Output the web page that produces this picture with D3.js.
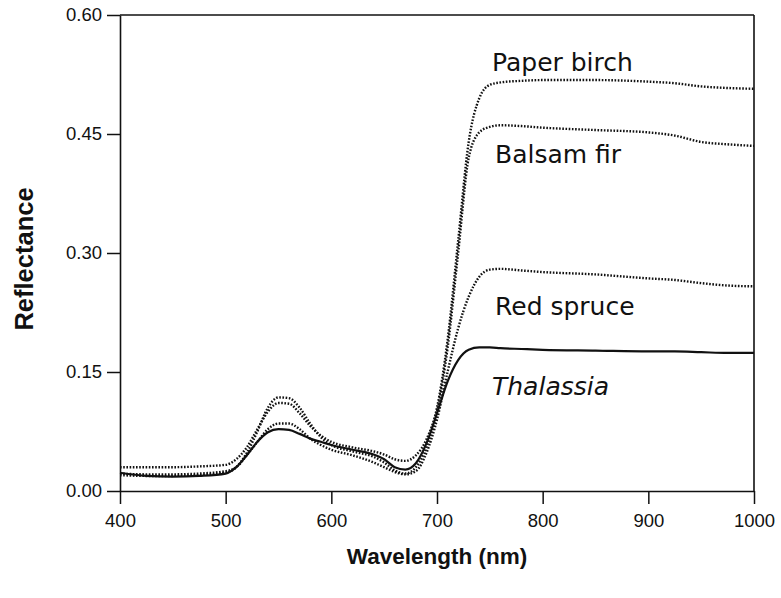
<!DOCTYPE html>
<html><head><meta charset="utf-8">
<script src="https://cdn.jsdelivr.net/npm/d3@7/dist/d3.min.js"></script>
<style>body{margin:0;background:#fff}svg{display:block}</style>
</head><body>
<svg id="chart" width="781" height="598"></svg>
<script>
const wavelengths = [400,425,450,475,500,510,520,530,540,550,560,570,580,590,600,620,640,650,660,670,680,690,700,710,720,730,740,750,760,780,800,850,900,925,950,975,1000];
const paperBirch = [0.030,0.030,0.030,0.031,0.033,0.040,0.055,0.078,0.100,0.111,0.110,0.098,0.082,0.070,0.062,0.055,0.050,0.046,0.040,0.038,0.045,0.065,0.105,0.190,0.315,0.440,0.495,0.512,0.515,0.517,0.518,0.518,0.516,0.514,0.510,0.508,0.507];
const balsamFir = [0.020,0.019,0.019,0.020,0.023,0.030,0.048,0.075,0.105,0.118,0.117,0.105,0.085,0.068,0.058,0.050,0.043,0.036,0.026,0.022,0.030,0.055,0.100,0.180,0.300,0.420,0.452,0.459,0.461,0.460,0.458,0.455,0.452,0.448,0.440,0.437,0.435];
const redSpruce = [0.022,0.021,0.021,0.022,0.025,0.030,0.045,0.062,0.078,0.085,0.085,0.078,0.066,0.058,0.052,0.045,0.036,0.030,0.024,0.021,0.025,0.048,0.090,0.150,0.205,0.245,0.270,0.279,0.280,0.278,0.276,0.273,0.268,0.266,0.262,0.259,0.258];
const thalassia = [0.023,0.019,0.018,0.019,0.022,0.030,0.045,0.062,0.074,0.078,0.077,0.072,0.066,0.062,0.058,0.052,0.046,0.040,0.030,0.027,0.035,0.060,0.098,0.138,0.165,0.178,0.181,0.181,0.180,0.179,0.178,0.177,0.176,0.176,0.175,0.174,0.174];
const seriesNames = ["Paper birch","Balsam fir","Red spruce","Thalassia"];
const xTicks = [400,500,600,700,800,900,1000];
const yTicks = [0,0.15,0.30,0.45,0.60];

const svg = d3.select("#chart");
const L = 120, R = 754, T = 15, B = 491;
const x = d3.scaleLinear().domain([400,1000]).range([L,R]);
const y = d3.scaleLinear().domain([0,0.6]).range([B,T]);

// frame
svg.append("line").attr("x1",L).attr("x2",R).attr("y1",T).attr("y2",T).attr("stroke","#111").attr("stroke-width",1.6);
svg.append("line").attr("x1",R).attr("x2",R).attr("y1",T).attr("y2",B).attr("stroke","#111").attr("stroke-width",1.6);

const xAxis = svg.append("g").attr("transform",`translate(0,${B})`)
  .call(d3.axisBottom(x).tickValues(xTicks).tickSize(13).tickSizeOuter(0).tickPadding(10).tickFormat(d3.format("d")));
const yAxis = svg.append("g").attr("transform",`translate(${L},0)`)
  .call(d3.axisLeft(y).tickValues(yTicks).tickSize(13).tickSizeOuter(0).tickPadding(5).tickFormat(d3.format(".2f")));
[xAxis,yAxis].forEach(g=>{
  g.select(".domain").attr("stroke","#111").attr("stroke-width",1.6);
  g.selectAll(".tick line").attr("stroke","#111").attr("stroke-width",1.5);
  g.selectAll(".tick text").attr("font-family","Liberation Sans, Arial, sans-serif").attr("font-size",18.5).attr("fill","#111");
});

const data = [paperBirch, balsamFir, redSpruce, thalassia];
const line = d3.line().x((d,i)=>x(wavelengths[i])).y(d=>y(d)).curve(d3.curveMonotoneX);
data.forEach((s,k)=>{
  const p = svg.append("path").datum(s).attr("d",line).attr("fill","none").attr("stroke","#111");
  if (k<3) p.attr("stroke-width",2.4).attr("stroke-dasharray","1.6,1.6");
  else p.attr("stroke-width",2.2);
});

const labelPos = [[492,0.529],[495,0.413],[495,0.222],[492,0.121]];
seriesNames.forEach((n,i)=>{
  svg.append("text").attr("x",labelPos[i][0]).attr("y",y(labelPos[i][1]))
    .attr("font-family","DejaVu Sans, Verdana, sans-serif").attr("font-size",25)
    .attr("font-style", i===3 ? "italic":"normal").attr("fill","#111").text(n);
});

svg.append("text").attr("transform","translate(33,259) rotate(-90)").attr("text-anchor","middle")
  .attr("font-family","Liberation Sans, Arial, sans-serif").attr("font-weight","bold").attr("font-size",25.5).attr("fill","#111").text("Reflectance");
svg.append("text").attr("x",437).attr("y",564).attr("text-anchor","middle")
  .attr("font-family","Liberation Sans, Arial, sans-serif").attr("font-weight","bold").attr("font-size",22.5).attr("fill","#111").text("Wavelength (nm)");
</script>
</body></html>
